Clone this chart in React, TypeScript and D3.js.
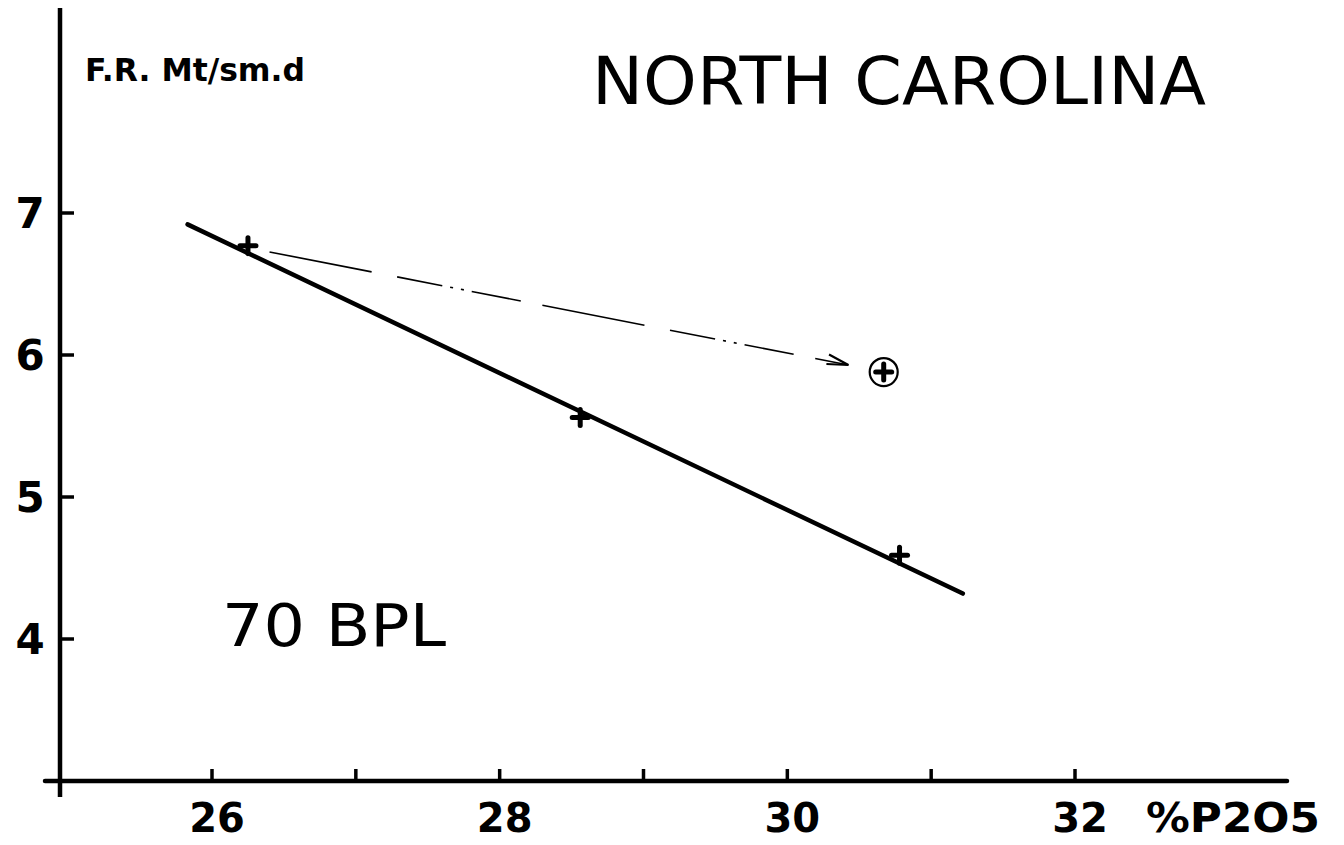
import React from "react";
import * as d3 from "d3";

const W = 1344;
const H = 845;

// Data
const xTickValues = [26, 27, 28, 29, 30, 31, 32];
const xLabelValues = [26, 28, 30, 32];
const yTickValues = [4, 5, 6, 7];
const pointX = [26.25, 28.56, 30.78];
const pointY = [6.77, 5.56, 4.59];
const fitX = [25.83, 31.22];
const fitY = [6.92, 4.32];
const movedX = [30.67];
const movedY = [5.88];

const x = d3.scaleLinear().domain([26, 32]).range([212, 1075]);
const y = d3.scaleLinear().domain([3, 7]).range([781, 213]);

const numFont = "'DejaVu Sans', sans-serif";

export default function App() {
  const fitLine = d3.line<number>()
    .x((_, i) => x(fitX[i]))
    .y((_, i) => y(fitY[i]))(fitX.map((_, i) => i)) as string;

  // arrow from first point to moved point
  const sx = x(pointX[0]), sy = y(pointY[0]);
  const ex = x(movedX[0]), ey = y(movedY[0]);
  const len = Math.hypot(ex - sx, ey - sy);
  const ux = (ex - sx) / len, uy = (ey - sy) / len;
  const a0 = [sx + ux * 22, sy + uy * 22 + 2];
  const a1 = [ex - ux * 36, ey - uy * 36];
  const ang = Math.atan2(uy, ux);
  const head = (da: number) => [a1[0] - 22 * Math.cos(ang + da), a1[1] - 22 * Math.sin(ang + da)];
  const h1 = head(0.3), h2 = head(-0.15);

  const plus = (cx: number, cy: number, key: string) => (
    <g key={key} stroke="#000" strokeWidth={5} strokeLinecap="round">
      <line x1={cx - 8} y1={cy} x2={cx + 8} y2={cy} />
      <line x1={cx} y1={cy - 8} x2={cx} y2={cy + 8} />
    </g>
  );

  return (
    <svg width={W} height={H} style={{ position: "fixed", top: 0, left: 0, background: "#fff" }}>
      <rect x={0} y={0} width={W} height={H} fill="#fff" />
      {/* axes */}
      <line x1={60} y1={8} x2={60} y2={797} stroke="#000" strokeWidth={4.5} />
      <line x1={45} y1={781} x2={1287} y2={781} stroke="#000" strokeWidth={4.5} strokeLinecap="round" />
      {xTickValues.map((v) => (
        <line key={"xt" + v} x1={x(v)} y1={781} x2={x(v)} y2={769} stroke="#000" strokeWidth={3.5} />
      ))}
      {yTickValues.map((v) => (
        <line key={"yt" + v} x1={60} y1={y(v)} x2={74} y2={y(v)} stroke="#000" strokeWidth={3.5} />
      ))}
      {yTickValues.map((v) => (
        <text key={"yl" + v} x={30} y={y(v) + 15} textAnchor="middle" fontFamily={numFont}
          fontWeight="bold" fontSize={42}>{v}</text>
      ))}
      {xLabelValues.map((v) => (
        <text key={"xl" + v} x={x(v) + 5} y={832} textAnchor="middle" fontFamily={numFont}
          fontWeight="bold" fontSize={40}>{v}</text>
      ))}
      <text x={1146} y={832} fontFamily={numFont} fontWeight="bold" fontSize={40}
        textLength={174} lengthAdjust="spacingAndGlyphs">%P2O5</text>

      {/* titles */}
      <text x={85} y={81} fontFamily={numFont} fontSize={32} textLength={220}
        lengthAdjust="spacingAndGlyphs" fontWeight="bold">F.R.  Mt/sm.d</text>
      <text x={592} y={104} fontFamily={numFont} fontSize={66} textLength={614}
        lengthAdjust="spacingAndGlyphs">NORTH CAROLINA</text>
      <text x={222} y={646} fontFamily={numFont} fontSize={58} textLength={224}
        lengthAdjust="spacingAndGlyphs">70 BPL</text>

      {/* fit line */}
      <path d={fitLine} stroke="#000" strokeWidth={4.5} fill="none" strokeLinecap="round" />

      {/* dashed arrow */}
      <line x1={a0[0]} y1={a0[1]} x2={a1[0]} y2={a1[1]} stroke="#000" strokeWidth={1.6}
        strokeDasharray="104 26 46 8 3 8 3 8 50 22" />
      <polyline points={`${h1[0]},${h1[1]} ${a1[0]},${a1[1]} ${h2[0]},${h2[1]}`} fill="none"
        stroke="#000" strokeWidth={2.2} />

      {/* points */}
      {pointX.map((v, i) => plus(x(v), y(pointY[i]), "p" + i))}
      {movedX.map((v, i) => (
        <g key={"m" + i}>
          <circle cx={x(v)} cy={y(movedY[i])} r={14} fill="none" stroke="#000" strokeWidth={2.2} />
          {plus(x(v), y(movedY[i]), "mp" + i)}
        </g>
      ))}
    </svg>
  );
}
